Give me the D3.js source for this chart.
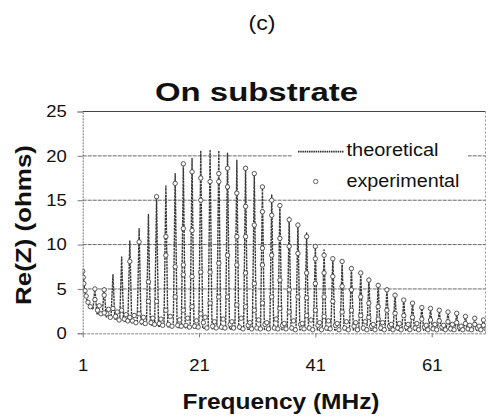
<!DOCTYPE html>
<html><head><meta charset="utf-8">
<script src="https://cdn.jsdelivr.net/npm/d3@7"></script>
<style>
html,body{margin:0;padding:0;background:#fff;}
text{font-family:"Liberation Sans",Arial,sans-serif;fill:#111;}
</style></head>
<body><svg id="chart" width="489" height="417"></svg>
<script>
// ---- data ----
const yTicks = [0, 5, 10, 15, 20, 25];
const xTicks = [1, 21, 41, 61];

// theoretical curve: initial decay, then resonance peaks with troughs after each
const theoStartF = [1.0, 1.3, 1.7, 2.3, 2.8];
const theoStartZ = [7.2, 5.0, 3.8, 3.0, 2.7];
const peakFreq = [3.1, 4.7, 6.2, 7.7, 9.1, 10.7, 12.3, 13.7, 15.3, 16.9, 18.3, 19.8, 21.3, 22.9, 24.4,
  25.9, 27.5, 29.0, 30.5, 31.9, 33.5, 34.9, 36.5, 38.0, 39.5, 41.0, 42.5, 44.0, 45.6, 47.2,
  48.8, 50.2, 51.8, 53.3, 54.7, 56.2, 57.7, 59.3, 60.8, 62.3, 63.8, 65.3, 66.8, 68.4, 69.9];
const peakZ = [5.1, 5.1, 6.6, 8.6, 10.4, 11.8, 13.4, 15.4, 16.6, 18.0, 19.1, 19.7, 20.6, 20.6, 20.6,
  20.3, 19.5, 18.8, 18.0, 16.5, 15.6, 14.6, 13.1, 12.4, 11.3, 9.8, 9.4, 8.6, 8.1, 7.5,
  6.9, 6.2, 5.6, 5.1, 4.5, 3.9, 3.6, 3.0, 2.8, 2.7, 2.4, 2.25, 1.9, 1.7, 1.5];
const troughZ = [2.2, 1.85, 1.6, 1.35, 1.2, 1.05, 0.92, 0.8, 0.72, 0.66, 0.62, 0.58, 0.55, 0.52, 0.5,
  0.48, 0.46, 0.45, 0.44, 0.43, 0.42, 0.41, 0.4, 0.4, 0.39, 0.38, 0.38, 0.37, 0.37, 0.36,
  0.36, 0.35, 0.35, 0.35, 0.34, 0.34, 0.34, 0.33, 0.33, 0.33, 0.32, 0.32, 0.32, 0.32, 0.32];
const spikeHalfWidth = 0.33;

// experimental points
const expStartF = [1.0, 1.1, 1.2, 1.4, 1.6, 1.9, 2.3];
const expStartZ = [7.0, 6.3, 5.6, 4.8, 4.2, 3.5, 3.0];
const expSpikeZ = [
  [5.0, 3.8], [4.9, 4.3, 2.3], [2.8], [2.6], [8.1, 1.8], [10.3, 2.2], [5.8, 3.6], [15.4, 3.6],
  [10.9, 8.8, 2.6], [16.9, 7.5, 4.1], [19.1, 11.8, 7.7, 6.6, 2.6], [18.2, 11.6, 6.4, 3.0],
  [17.5, 15.0, 6.9, 2.2], [17.1, 6.9, 3.4], [18.0, 17.1, 7.9, 4.1], [18.6, 16.5, 8.8, 4.1],
  [15.8, 10.9, 7.7, 3.2], [18.6, 14.3, 10.9, 6.8, 3.0], [18.0, 12.2, 5.6, 2.6],
  [16.5, 13.7, 9.6, 7.7, 3.4], [15.0, 13.3, 8.8, 4.1], [14.4, 10.7, 6.0, 2.8],
  [12.8, 9.8, 4.9, 2.4], [12.2, 9.0, 4.1], [10.9, 6.8, 4.0, 2.0], [9.8, 8.4, 5.6, 2.6],
  [8.8, 6.8, 4.1, 1.9], [8.4, 6.4, 3.6], [8.1, 5.3, 2.4], [7.3, 4.9, 2.6], [6.8, 4.1, 2.0],
  [6.0, 3.4, 1.8], [5.4, 3.0, 1.6], [4.9, 2.6], [4.3, 2.25], [3.75, 2.0], [3.4, 1.8],
  [2.9, 1.6], [2.8, 1.5], [2.6, 1.4], [2.4, 1.3], [2.25, 1.2], [1.9, 1.1], [1.7, 1.0], [1.5, 0.9]];
const lowOffsets = [0.45, 0.75, 1.05];
const expLowZ = [
  [2.6, 3.1, 2.2], [2.2, 2.7, 1.8], [1.9, 2.4, 1.5], [1.6, 2.1, 1.4], [1.4, 2.0, 1.2],
  [1.3, 1.8, 1.1], [1.2, 1.7, 1.0], [1.1, 1.6, 0.9], [1.0, 1.9, 0.8], [0.9, 1.5, 0.8],
  [0.9, 1.7, 0.7], [0.8, 1.4, 0.7], [1.2, 1.8, 0.6], [0.8, 1.3, 0.6], [0.7, 1.6, 0.6],
  [1.0, 1.3, 0.6], [0.7, 1.7, 0.5], [0.9, 1.2, 0.5], [0.6, 1.5, 0.5], [1.0, 1.2, 0.5],
  [0.6, 1.6, 0.5], [0.9, 1.1, 0.5], [0.6, 1.4, 0.4], [1.0, 1.1, 0.5], [0.6, 1.5, 0.4],
  [0.9, 1.2, 0.4], [0.6, 1.4, 0.5], [0.9, 1.1, 0.4], [0.6, 1.3, 0.4], [0.8, 1.2, 0.4],
  [0.6, 1.3, 0.4], [0.8, 1.0, 0.4], [0.6, 1.2, 0.4], [0.8, 1.0, 0.4], [0.6, 1.1, 0.4],
  [0.7, 1.0, 0.4], [0.6, 1.1, 0.4], [0.7, 0.9, 0.4], [0.5, 1.0, 0.4], [0.7, 0.9, 0.4],
  [0.5, 1.0, 0.4], [0.7, 0.8, 0.4], [0.5, 0.9, 0.4], [0.6, 0.8, 0.4], [0.5, 0.8, 0.4]];

const titleText = "On substrate";
const panelText = "(c)";
const xLabel = "Frequency (MHz)";
const yLabel = "Re(Z) (ohms)";
const legendLabels = ["theoretical", "experimental"];

// ---- drawing ----
const svg = d3.select("#chart");
const x = d3.scaleLinear().domain([1, 70.25]).range([82.7, 485.5]);
const y = d3.scaleLinear().domain([0, 25]).range([333.3, 111.5]);

svg.append("defs").append("clipPath").attr("id", "clip")
  .append("rect").attr("x", x(1)).attr("y", y(25) - 2)
  .attr("width", x(70.25) - x(1)).attr("height", y(0) - y(25) + 2);

// gridlines
svg.append("g").selectAll("line").data(yTicks.filter(d => d > 0 && d < 25)).join("line")
  .attr("x1", x(1)).attr("x2", x(70.25))
  .attr("y1", d => y(d)).attr("y2", d => y(d))
  .attr("stroke", "#6a6a6a").attr("stroke-width", 1).attr("stroke-dasharray", "4,1");

// frame top and right
svg.append("line").attr("x1", x(1)).attr("x2", x(70.25)).attr("y1", y(25)).attr("y2", y(25))
  .attr("stroke", "#444").attr("stroke-width", 1);
svg.append("line").attr("x1", x(70.25)).attr("x2", x(70.25)).attr("y1", y(25)).attr("y2", y(0))
  .attr("stroke", "#999").attr("stroke-width", 1).attr("stroke-dasharray", "2,2");

// theoretical line
const theo = theoStartF.map((f, i) => [f, theoStartZ[i]]);
let prevZ = theoStartZ[theoStartZ.length - 1];
peakFreq.forEach((f, i) => {
  theo.push([f - spikeHalfWidth, prevZ]);
  theo.push([f, peakZ[i]]);
  theo.push([f + spikeHalfWidth, troughZ[i]]);
  prevZ = troughZ[i];
});
const plot = svg.append("g").attr("clip-path", "url(#clip)");
plot.append("path").datum(theo)
  .attr("d", d3.line().x(d => x(d[0])).y(d => y(d[1])))
  .attr("fill", "none").attr("stroke", "#3a3a3a").attr("stroke-width", 1.4)
  .attr("stroke-dasharray", "2.5,0.8")
  .attr("stroke-linejoin", "round");

// experimental points
const exp = expStartF.map((f, i) => [f, expStartZ[i]]);
expLowZ.forEach((arr, i) => arr.forEach((z, j) => exp.push([peakFreq[i] + lowOffsets[j], z])));
expSpikeZ.forEach((arr, i) => arr.forEach(z => exp.push([peakFreq[i], z])));
plot.append("g").selectAll("circle").data(exp).join("circle")
  .attr("cx", d => x(d[0])).attr("cy", d => y(d[1])).attr("r", 2.2)
  .attr("fill", "#fff").attr("stroke", "#444").attr("stroke-width", 0.9);

// axes
const yAxis = svg.append("g").attr("transform", `translate(${x(1)},0)`)
  .call(d3.axisLeft(y).tickValues(yTicks).tickSize(5).tickPadding(11).tickFormat(d3.format("d")));
yAxis.select(".domain").attr("stroke", "#777").attr("stroke-dasharray", "2,1");
yAxis.selectAll(".tick line").attr("stroke", "#777");
yAxis.selectAll(".tick text").attr("font-size", 16.5).attr("fill", "#111");

const xAxis = svg.append("g").attr("transform", `translate(0,${y(0)})`)
  .call(d3.axisBottom(x).tickValues(xTicks).tickSize(4).tickPadding(22).tickSizeOuter(0));
xAxis.select(".domain").attr("stroke", "#888").attr("stroke-dasharray", "3,1");
xAxis.selectAll(".tick line").attr("stroke", "#777");
xAxis.selectAll(".tick text").attr("font-size", 16.5).attr("fill", "#111");

// legend
const lg = svg.append("g");
lg.append("rect").attr("x", 292).attr("y", 138).attr("width", 176).attr("height", 57).attr("fill", "#fff");
lg.append("line").attr("x1", 298).attr("x2", 344).attr("y1", 151.7).attr("y2", 151.7)
  .attr("stroke", "#2e2e2e").attr("stroke-width", 1.8).attr("stroke-dasharray", "1.5,0.7");
lg.append("text").attr("x", 346.5).attr("y", 155.5).attr("font-size", 17.5)
  .attr("data-w", 92).text(legendLabels[0]);
lg.append("circle").attr("cx", 315.7).attr("cy", 181.5).attr("r", 2.2)
  .attr("fill", "#fff").attr("stroke", "#555").attr("stroke-width", 0.9);
lg.append("text").attr("x", 346.5).attr("y", 186.5).attr("font-size", 17.5)
  .attr("data-w", 113).text(legendLabels[1]);

// titles
svg.append("text").attr("x", 262).attr("y", 30).attr("text-anchor", "middle")
  .attr("font-size", 19.5).attr("fill", "#222").attr("data-w", 27).text(panelText);
svg.append("text").attr("x", 256.5).attr("y", 100.5).attr("text-anchor", "middle")
  .attr("font-size", 25).attr("font-weight", "bold").attr("fill", "#222")
  .attr("data-w", 203).text(titleText);
svg.append("text").attr("x", 281).attr("y", 409).attr("text-anchor", "middle")
  .attr("font-size", 22.5).attr("font-weight", "bold").attr("data-w", 197).text(xLabel);
svg.append("text").attr("transform", "translate(31,225) rotate(-90)").attr("text-anchor", "middle")
  .attr("font-size", 22).attr("font-weight", "bold").attr("data-w", 160).text(yLabel);

// the reference scan is stretched horizontally; match measured widths
svg.selectAll("text").each(function () {
  const w = this.getAttribute("data-w");
  const len = w ? +w : this.getComputedTextLength() * 1.12;
  d3.select(this).attr("textLength", len).attr("lengthAdjust", "spacingAndGlyphs");
});
</script></body></html>
